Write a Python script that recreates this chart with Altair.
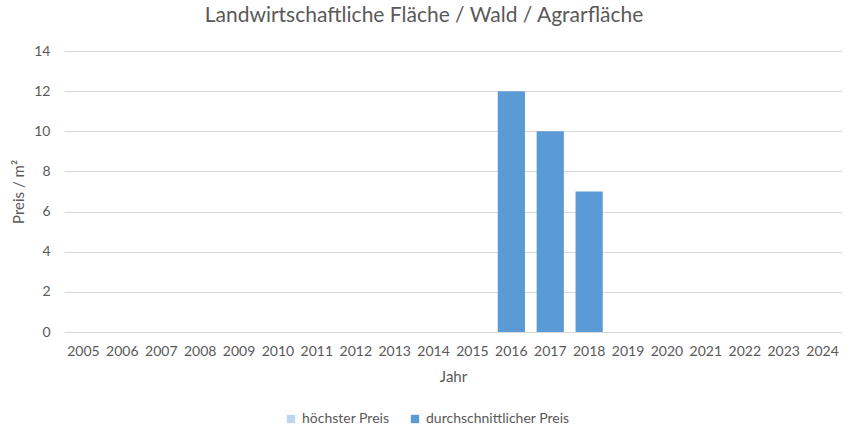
import altair as alt
import pandas as pd

years = [str(y) for y in range(2005, 2025)]
avg_price = [None]*11 + [12, 10, 7] + [None]*6
max_price = [None]*20
series_names = ["höchster Preis", "durchschnittlicher Preis"]
series_colors = ["#BDD7EE", "#5B9BD5"]

rows = []
for y, m, a in zip(years, max_price, avg_price):
    rows.append({"Jahr": y, "Serie": series_names[0], "Preis": m})
    rows.append({"Jahr": y, "Serie": series_names[1], "Preis": a})
df = pd.DataFrame(rows)

FONT = "Lato"
GREY = "#595959"

chart = alt.Chart(df).mark_bar().encode(
    x=alt.X("Jahr:N", sort=years,
            scale=alt.Scale(domain=years, paddingInner=0.3, paddingOuter=0.15),
            axis=alt.Axis(title="Jahr", labelAngle=0, ticks=False, domain=False,
                          labelPadding=12, titlePadding=11, labelFontSize=14,
                          titleFontSize=15, labelColor=GREY, titleColor=GREY,
                          titleFontWeight="normal", labelFont=FONT, titleFont=FONT)),
    y=alt.Y("Preis:Q", scale=alt.Scale(domain=[0, 14]),
            axis=alt.Axis(title="Preis / m²", values=[0, 2, 4, 6, 8, 10, 12, 14],
                          ticks=False, domain=False, labelPadding=14, titlePadding=7,
                          labelFontSize=14, titleFontSize=15, labelColor=GREY,
                          titleColor=GREY, titleFontWeight="normal",
                          gridColor="#D9D9D9", labelFont=FONT, titleFont=FONT)),
    color=alt.Color("Serie:N",
                    scale=alt.Scale(domain=series_names, range=series_colors),
                    legend=alt.Legend(title=None, orient="none", direction="horizontal",
                                      legendX=220, legendY=361, symbolType="square",
                                      symbolSize=70, labelFontSize=14, labelColor=GREY,
                                      labelFont=FONT, columnPadding=18,
                                      symbolStrokeWidth=0)),
).properties(
    width=778,
    height=281,
    autosize=alt.AutoSizeParams(type="none"),
    padding={"left": 64, "top": 51, "right": 12, "bottom": 103},
    title=alt.TitleParams("Landwirtschaftliche Fläche / Wald / Agrarfläche",
                          fontSize=21, font=FONT, color=GREY, fontWeight="normal",
                          anchor="middle", offset=18, dx=-29),
).configure_view(stroke=None)

chart.save("out.html", embed_options={"renderer": "svg", "actions": False})
